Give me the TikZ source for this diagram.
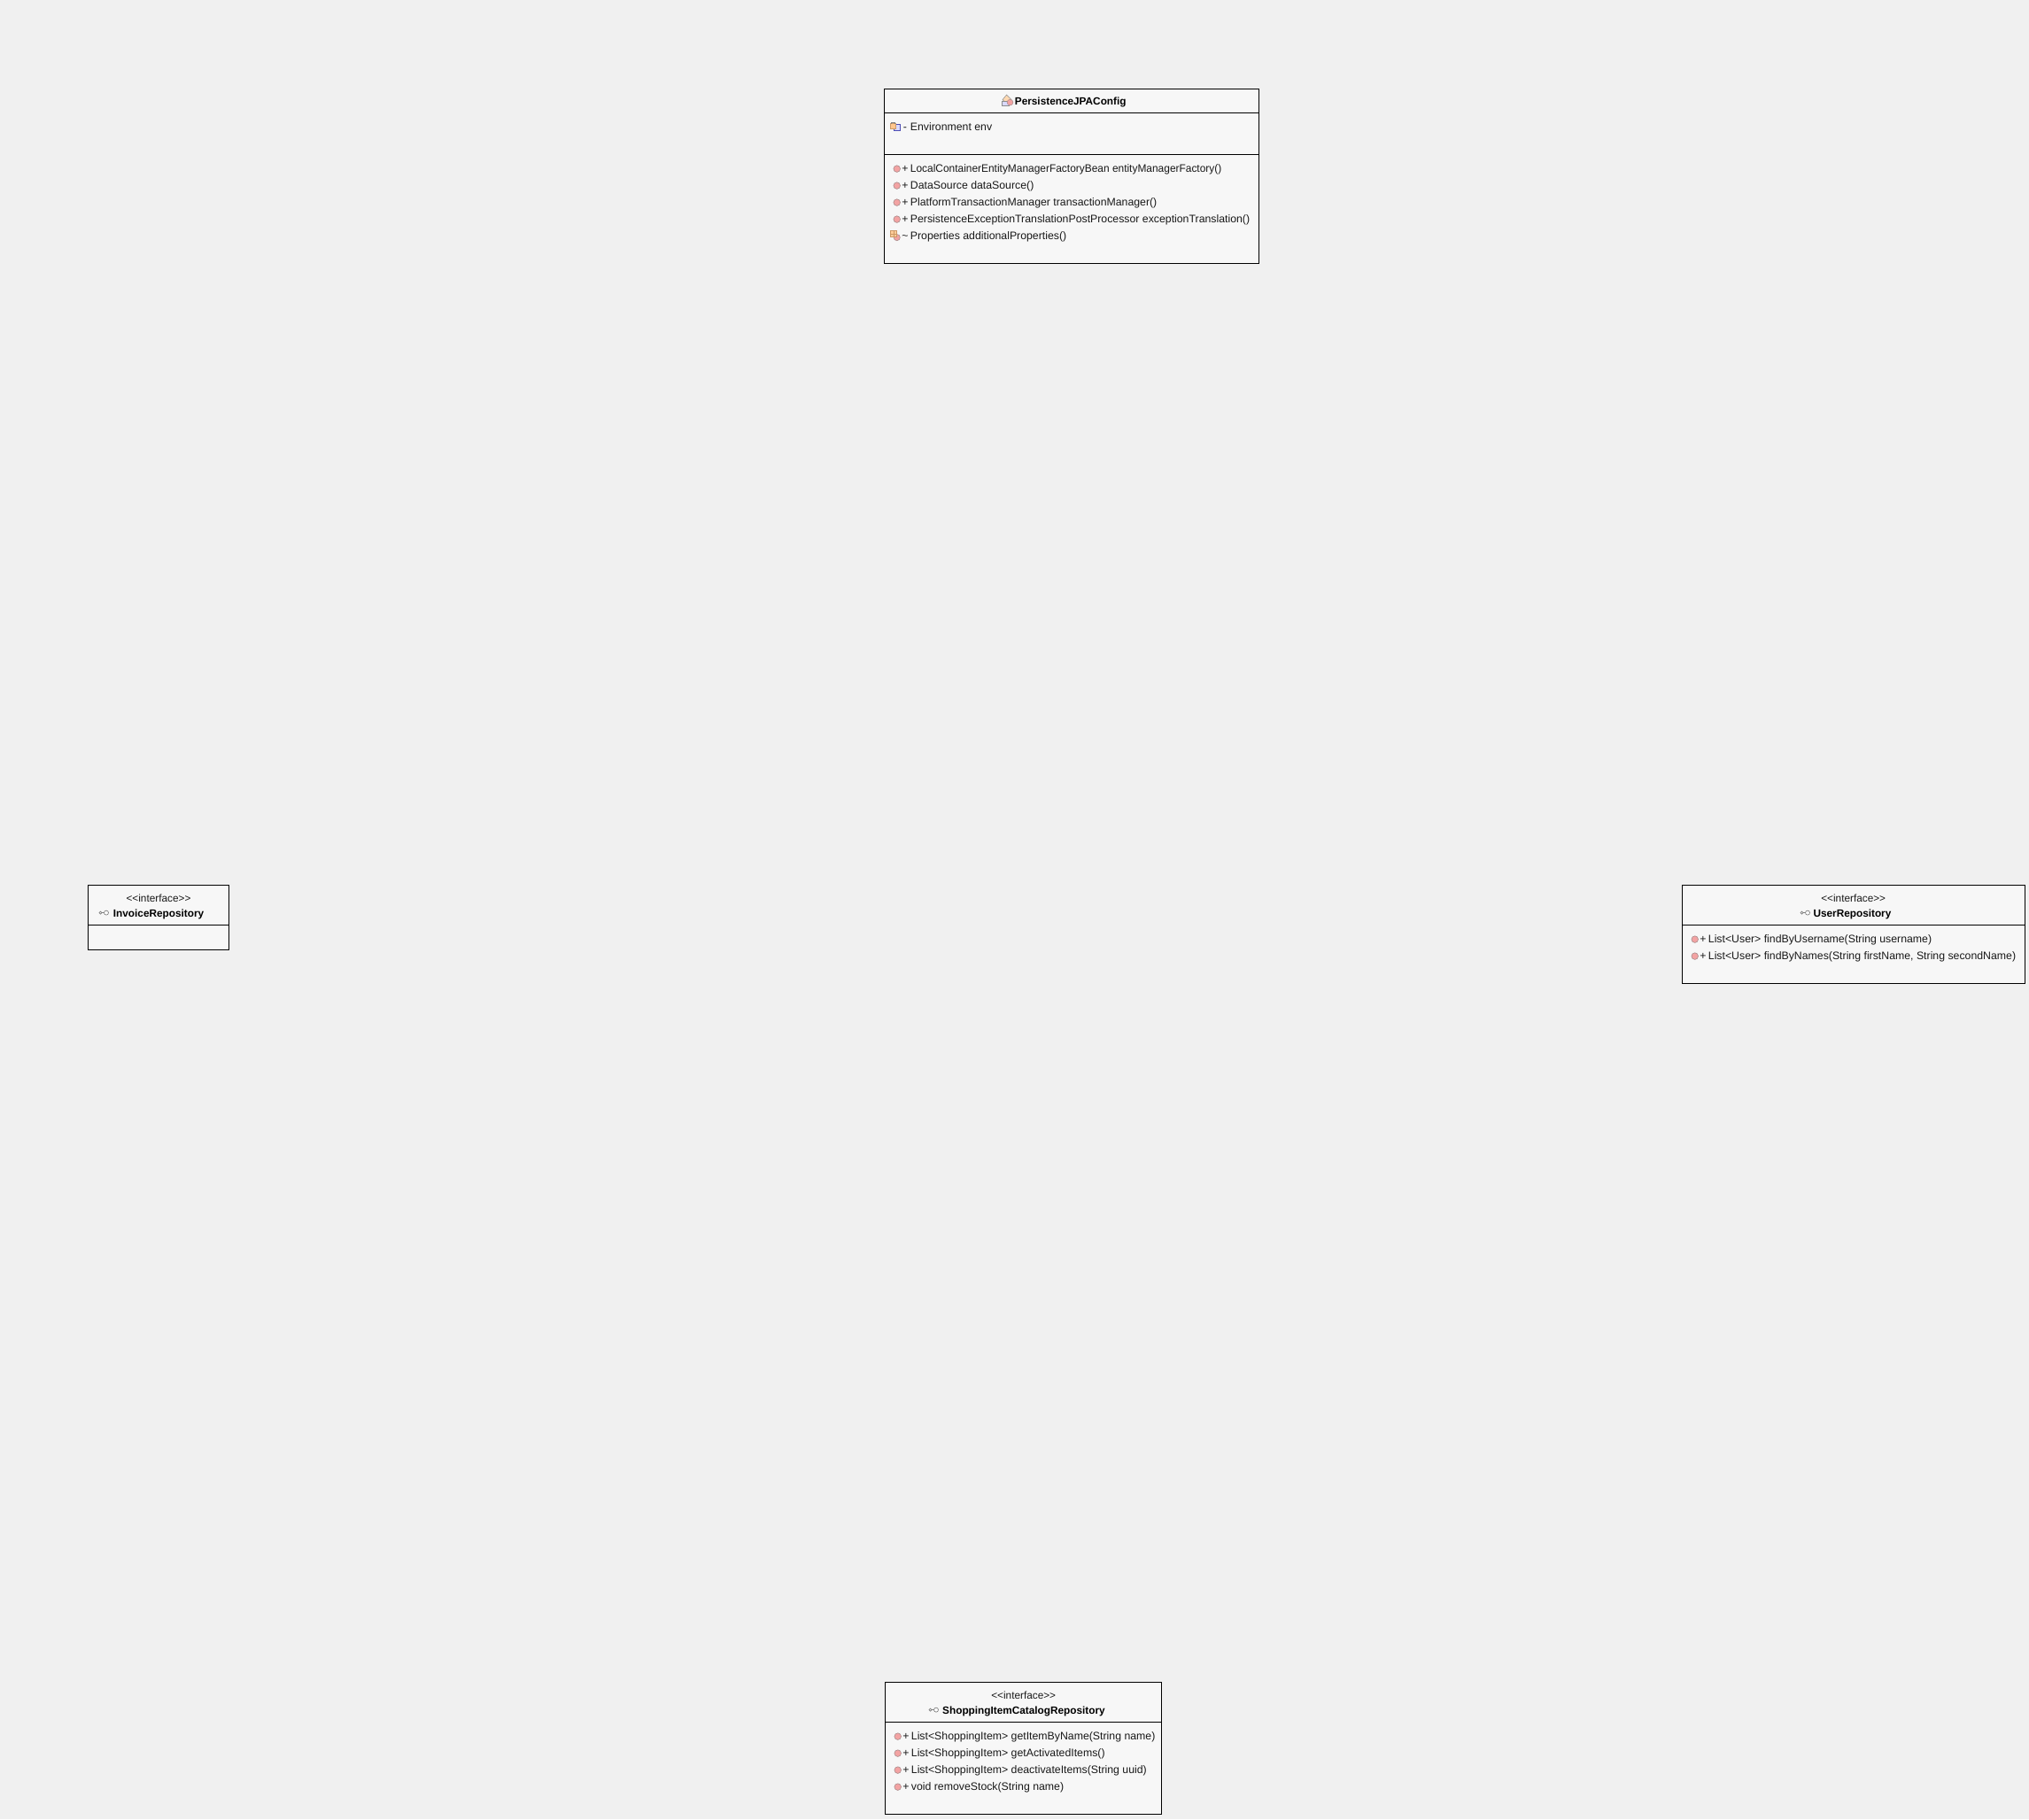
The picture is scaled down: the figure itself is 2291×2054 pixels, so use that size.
\documentclass[tikz,border=0pt]{standalone}
\usepackage{fontspec}
\setmainfont{Liberation Sans}
\newcommand{\rowfont}{\fontsize{12.3pt}{13pt}\selectfont}
\newcommand{\titlefont}{\fontsize{11.8pt}{13pt}\selectfont\bfseries}
\definecolor{pagebg}{HTML}{F0F0F0}
\definecolor{boxfill}{HTML}{F7F7F7}
\definecolor{dotred}{HTML}{F3A3A3}
\definecolor{dotedge}{HTML}{A88C8C}
\tikzset{
  x=1pt,y=-1pt,
  umlbox/.style={draw=black,fill=boxfill,line width=1pt,rectangle,inner sep=0pt,outer sep=0pt,anchor=north west},
  rowtext/.style={inner sep=0pt,anchor=base west,font=\rowfont,text=black!90},
  vis/.style={inner sep=0pt,anchor=base,font=\rowfont,text=black!90},
  stereo/.style={inner sep=0pt,anchor=base,font=\fontsize{11.8pt}{13pt}\selectfont,text=black!90},
  titletext/.style={inner sep=0pt,anchor=base west,font=\titlefont,text=black},
  divider/.style={draw=black,line width=1pt},
}
% public method marker
\newcommand{\pubdot}[2]{\fill[dotred,draw=dotedge,line width=0.6pt] (#1,#2) circle[radius=3.8];}
% interface icon
\newcommand{\ifaceicon}[2]{%
  \draw[black!50,line width=0.7pt] (#1-4.5,#2) circle[radius=1.5];
  \draw[black!50,line width=0.7pt] (#1-3,#2) -- (#1-0.5,#2);
  \draw[black!50,line width=0.7pt,fill=white] (#1+2,#2) circle[radius=2.5];}
% method row: name, dot x, y, text
\newcommand{\methodrow}[4]{%
  \pubdot{#2}{#3}
  \node[vis] at (#2+9.3,#3+4) {+};
  \node[rowtext] (#1) at (#2+15,#3+4) {#4};}
\begin{document}
\begin{tikzpicture}
\useasboundingbox[fill=pagebg] (0,0) rectangle (2291,2054);
\begin{scope}[yshift=-0.6pt]

% PersistenceJPAConfig
\node[umlbox,minimum width=422.5pt,minimum height=197.5pt] (cfg) at (998.5,99.5) {};
\draw[divider] (998.5,127) -- (1421,127);
\draw[divider] (998.5,174) -- (1421,174);
% class icon
\fill[orange!30!white,draw=black!45,line width=0.5pt] (1136.5,106.5) -- (1142,112) -- (1137,117) -- (1132,112) -- cycle;
\fill[blue!15!white,draw=black!45,line width=0.5pt] (1131,114) rectangle (1139,119);
\fill[dotred,draw=dotedge,line width=0.5pt] (1140.5,115) circle[radius=3.4];
\node[titletext] (cfgtitle) at (1145.7,117.5) {PersistenceJPAConfig};
% private field
\fill[blue!15!white,draw=blue!40!gray,line width=0.6pt] (1009,139.5) rectangle (1016.5,147);
\fill[orange!45!white,draw=brown!80,line width=0.5pt] (1005.5,139) rectangle (1011,144.5);
\draw[gray,line width=0.6pt] (1006.5,139) -- (1006.5,137.5) -- (1010,137.5) -- (1010,139);
\node[vis] at (1022,146.7) {-};
\node[rowtext] (cfgenv) at (1027.7,146.7) {Environment env};
\pubdot{1012.7}{190}
\node[vis] at (1022,194) {+};
\node[rowtext] (cfgm1) at (1027.7,194) {\scalebox{0.97}[1]{LocalContainerEntityManagerFactoryBean entityManagerFactory()}};
\methodrow{cfgm2}{1012.7}{209}{DataSource dataSource()}
\methodrow{cfgm3}{1012.7}{228}{PlatformTransactionManager transactionManager()}
\methodrow{cfgm4}{1012.7}{247}{PersistenceExceptionTranslationPostProcessor exceptionTranslation()}
% package method
\fill[dotred,draw=dotedge,line width=0.6pt] (1012.7,267.5) circle[radius=3.6];
\fill[orange!40!white,draw=brown!80,line width=0.5pt] (1005.5,260) rectangle (1012,266.5);
\draw[brown!80,line width=0.4pt] (1008.7,260) -- (1008.7,266.5) (1005.5,263.2) -- (1012,263.2);
\node[vis] at (1022,270) {\textasciitilde};
\node[rowtext] (cfgm5) at (1027.7,270) {Properties additionalProperties()};

% InvoiceRepository
\node[umlbox,minimum width=159.4pt,minimum height=73pt] (inv) at (99.3,999.3) {};
\draw[divider] (99.3,1044.3) -- (258.7,1044.3);
\node[stereo] (invst) at (179,1018) {<{}<interface>{}>};
\ifaceicon{118}{1030}
\node[titletext] (invtitle) at (127.7,1035) {InvoiceRepository};

% UserRepository
\node[umlbox,minimum width=387.4pt,minimum height=111pt] (usr) at (1899.3,999.3) {};
\draw[divider] (1899.3,1044.3) -- (2286.7,1044.3);
\node[stereo] (usrst) at (2092.7,1018) {<{}<interface>{}>};
\ifaceicon{2039}{1030}
\node[titletext] (usrtitle) at (2047.3,1035) {UserRepository};
\methodrow{usrm1}{1913.7}{1060}{List<User> findByUsername(String username)}
\methodrow{usrm2}{1913.7}{1079}{List<User> findByNames(String firstName, String secondName)}

% ShoppingItemCatalogRepository
\node[umlbox,minimum width=312.4pt,minimum height=149pt] (shp) at (999.3,1899.3) {};
\draw[divider] (999.3,1944.3) -- (1311.7,1944.3);
\node[stereo] (shpst) at (1155.7,1918) {<{}<interface>{}>};
\ifaceicon{1055}{1930}
\node[titletext] (shptitle) at (1064,1935) {ShoppingItemCatalogRepository};
\methodrow{shpm1}{1013.7}{1960}{List<ShoppingItem> getItemByName(String name)}
\methodrow{shpm2}{1013.7}{1979}{List<ShoppingItem> getActivatedItems()}
\methodrow{shpm3}{1013.7}{1998}{List<ShoppingItem> deactivateItems(String uuid)}
\methodrow{shpm4}{1013.7}{2017}{void removeStock(String name)}
\end{scope}
\end{tikzpicture}
\end{document}
